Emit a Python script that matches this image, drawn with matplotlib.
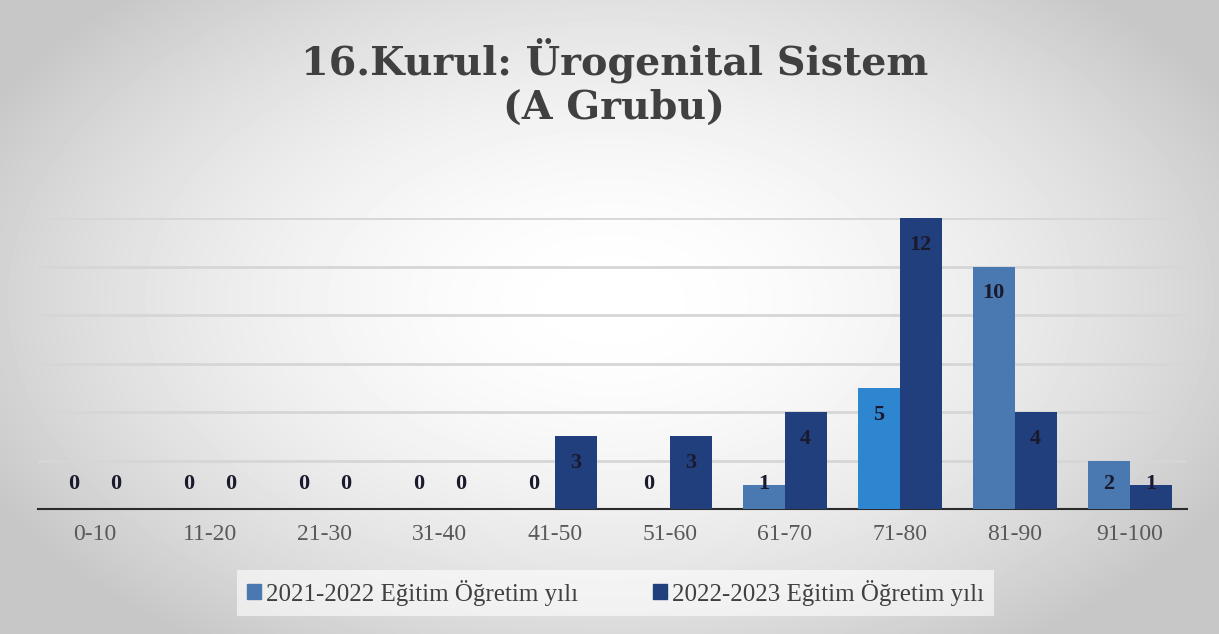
import numpy as np
import matplotlib.pyplot as plt

categories = ['0-10', '11-20', '21-30', '31-40', '41-50',
              '51-60', '61-70', '71-80', '81-90', '91-100']
y2122 = [0, 0, 0, 0, 0, 0, 1, 5, 10, 2]
y2223 = [0, 0, 0, 0, 3, 3, 4, 12, 4, 1]
labels = ['2021-2022 Eğitim Öğretim yılı', '2022-2023 Eğitim Öğretim yılı']

c_light = '#4a78b0'
c_light_hi = '#2f86d0'
c_dark = '#213f7c'
serif = ['Liberation Serif', 'DejaVu Serif']

fig = plt.figure(figsize=(12.19, 6.34), dpi=100)

# radial grey background like the office chart style
bg = fig.add_axes([0, 0, 1, 1], zorder=-5)
yy, xx = np.mgrid[0:634, 0:1219]
r = np.sqrt(((xx - 610) / 700.0) ** 2 + ((yy - 300) / 420.0) ** 2)
shade = 1.0 - 0.22 * np.clip(r, 0, 1) ** 1.8
bg.imshow(shade, cmap='gray', vmin=0, vmax=1, aspect='auto', extent=[0, 1, 0, 1])
bg.set_axis_off()

ax = fig.add_axes([0.0308, 0.197, 0.943, 0.459])
ax.patch.set_alpha(0)

x = np.arange(len(categories))
w = 0.365
cols1 = [c_light_hi if c == '71-80' else c_light for c in categories]
ax.bar(x - w / 2, y2122, w, color=cols1, label=labels[0], zorder=3)
ax.bar(x + w / 2, y2223, w, color=c_dark, label=labels[1], zorder=3)

for xs, vals in [(x - w / 2, y2122), (x + w / 2, y2223)]:
    for xi, v in zip(xs, vals):
        ax.text(xi, max(v - 1.1, 1.05), str(v), ha='center', va='center',
                fontsize=16, fontweight='bold', color='#1a1a2e',
                family=serif, zorder=4)

ax.set_xlim(-0.5, 9.5)
ax.set_ylim(0, 12)
ax.set_yticks(np.arange(0, 13, 2))
ax.yaxis.grid(True, color='#d6d6d6', linewidth=2, zorder=0)
ax.tick_params(axis='y', left=False, labelleft=False)
ax.tick_params(axis='x', length=0, pad=11)
ax.set_xticks(x)
ax.set_xticklabels(categories, family=serif, fontsize=17, color='#595959')
for s in ['top', 'right', 'left']:
    ax.spines[s].set_visible(False)
ax.spines['bottom'].set_color('#2b2b2b')
ax.spines['bottom'].set_linewidth(1.5)

leg_handles = [plt.Rectangle((0, 0), 1, 1, color=c_light),
               plt.Rectangle((0, 0), 1, 1, color=c_dark)]
fig.legend(leg_handles, labels, loc='center', bbox_to_anchor=(0.505, 0.065),
           ncol=2, frameon=True, facecolor='white', edgecolor='none',
           framealpha=0.6, fancybox=False, handlelength=0.55, handleheight=0.55,
           handletextpad=0.2, columnspacing=3.0,
           prop={'family': serif, 'size': 18}, labelcolor='#404040')

fig.text(0.504, 0.87, '16.Kurul: Ürogenital Sistem\n(A Grubu)', ha='center',
         va='center', fontsize=28.5, fontweight='bold', color='#404040',
         family=['DejaVu Serif'], linespacing=1.2)

fig.savefig('out.png', dpi=100)
